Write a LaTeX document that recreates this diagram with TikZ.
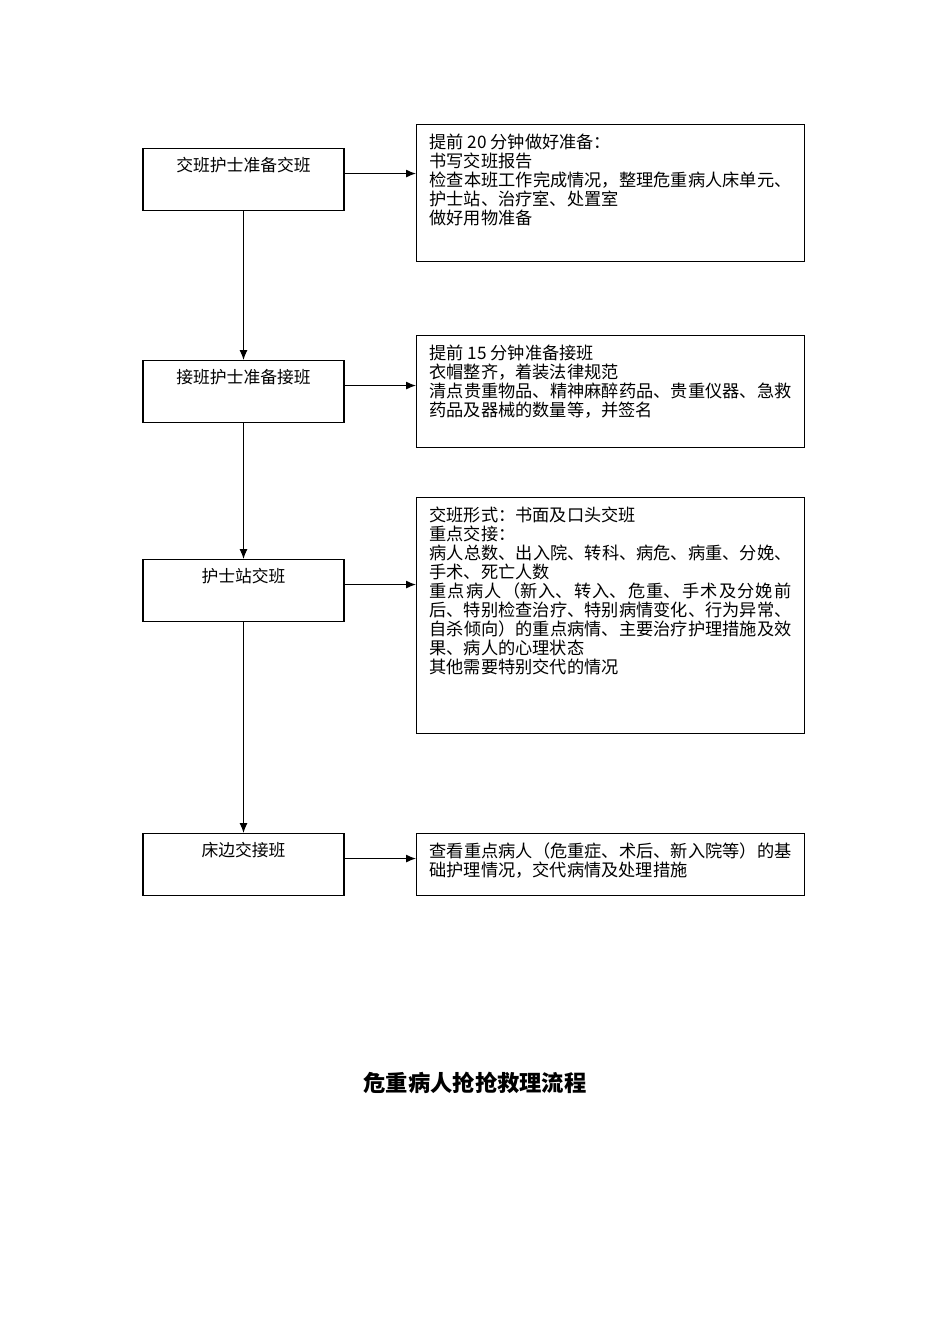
\documentclass[tikz,border=0pt]{standalone}
\usepackage{fontspec}
\setmainfont{Noto Sans CJK SC}
\usetikzlibrary{arrows.meta,positioning}
\XeTeXlinebreaklocale "zh"
\XeTeXlinebreakskip=0pt plus 1pt
\setlength{\parindent}{0pt}
\tikzset{stage/.style={draw=black, line width=1.1pt, anchor=north, minimum width=201pt,
    inner xsep=4pt, inner ysep=8pt, text height=15.4pt, text depth=30.6pt,
    font=\fontsize{16.8}{19}\selectfont}}
\tikzset{note/.style={draw=black, line width=1.1pt, anchor=north west, text width=362pt,
    align=justify, inner xsep=13pt, inner ysep=8pt, text height=16pt, text depth=#1,
    font=\fontsize{17.2}{19}\selectfont}}
\tikzset{flow/.style={line width=1.1pt, -{Latex[length=10pt,width=8pt]}}}

\begin{document}
\begin{tikzpicture}[x=1pt, y=-1pt]
                        \useasboundingbox (0, 0) rectangle (950, 1344);

                        \node[stage] (jb) at (243.5, 148) {交班护士准备交班};
                        \node[stage] (sb) at (243.5, 360) {接班护士准备接班};
                        \node[stage] (hz) at (243.5, 559) {护士站交班};
                        \node[stage] (cb) at (243.5, 833) {床边交接班};

                        \node[note=105pt] (jbn) at (416, 124) {提前 20 分钟做好准备：\\
                            书写交班报告\\
                            检查本班工作完成情况，整理危重病人床单元、护士站、治疗室、处置室\\
                            做好用物准备};
                        \node[note=80pt] (sbn) at (416, 335) {提前 15 分钟准备接班\\
                            衣帽整齐，着装法律规范\\
                            清点贵重物品、精神麻醉药品、贵重仪器、急救药品及器械的数量等，并签名};
                        \node[note=204pt] (hzn) at (416, 497) {交班形式：书面及口头交班\\
                            重点交接：\\
                            病人总数、出入院、转科、病危、病重、分娩、手术、死亡人数\\
                            重点病人（新入、转入、危重、手术及分娩前后、特别检查治疗、特别病情变化、行为异常、自杀倾向）的重点病情、主要治疗护理措施及效果、病人的心理状态\\
                            其他需要特别交代的情况};
                        \node[note=30pt] (cbn) at (416, 833) {查看重点病人（危重症、术后、新入院等）的基础护理情况，交代病情及处理措施};

                        \node[font=\fontsize{22.3}{26}\selectfont\bfseries] (title) at (475, 1083) {危重病人抢抢救理流程};

                        \coordinate (jbo) at ([yshift=6pt]jb.east);
                        \coordinate (sbo) at ([yshift=6pt]sb.east);
                        \coordinate (hzo) at ([yshift=6pt]hz.east);
                        \coordinate (cbo) at ([yshift=6pt]cb.east);

                        \draw[flow] (jb) -- (sb);
                        \draw[flow] (sb) -- (hz);
                        \draw[flow] (hz) -- (cb);
                        \draw[flow] (jbo) -- (jbo -| jbn.west);
                        \draw[flow] (sbo) -- (sbo -| sbn.west);
                        \draw[flow] (hzo) -- (hzo -| hzn.west);
                        \draw[flow] (cbo) -- (cbo -| cbn.west);
                    \end{tikzpicture}
\end{document}
